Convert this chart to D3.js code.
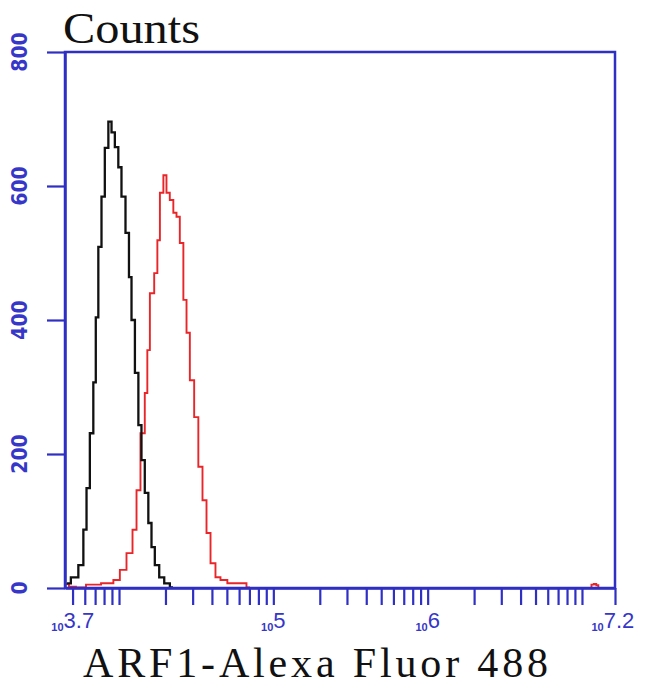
<!DOCTYPE html>
<html><head><meta charset="utf-8">
<script src="https://cdn.jsdelivr.net/npm/d3@7/dist/d3.min.js"></script>
<style>
html,body{margin:0;padding:0;background:#fff;}
svg{display:block;}
</style></head>
<body>
<svg id="chart" width="650" height="689"></svg>
<script>
// ---- data ----
const yTicks = [0, 200, 400, 600, 800];
const xLabelExps = ["3.7", "5", "6", "7.2"];
// black (control) histogram: log10 fluorescence, counts
const blackLog = [3.661,3.715,3.758,3.780,3.799,3.823,3.844,3.855,3.877,3.896,3.920,3.942,3.961,3.985,4.006,4.026,4.058,4.071,4.091,4.115,4.136,4.155,4.179,4.201,4.220,4.244,4.277,4.309,4.350];
const blackCounts = [7,16,34,87,149,231,307,404,509,584,657,696,680,658,628,584,530,464,400,321,243,191,142,97,61,34,16,7,1];
// red (ARF1) histogram
const redLog = [3.656,3.695,3.747,3.825,3.942,3.985,4.026,4.071,4.104,4.123,4.155,4.179,4.188,4.212,4.244,4.253,4.277,4.298,4.317,4.341,4.363,4.382,4.406,4.428,4.447,4.471,4.503,4.525,4.557,4.577,4.609,4.641,4.674,4.730,4.803,4.849];
const redCounts = [6,2,1,5,7,12,27,52,87,146,231,291,355,440,470,519,590,616,590,579,560,554,515,430,381,310,255,181,131,82,37,16,12,7,7,1];
// small red events near the top of the range
const redTailLog = [7.055,7.068,7.085,7.100,7.112];
const redTailCounts = [0,5,6,4,0];

const axisBlue = "#2f2fc4";
const textBlue = "#3636c8";

const svg = d3.select("#chart");
const x = d3.scaleLog().domain([Math.pow(10,3.65), Math.pow(10,7.214)]).range([65, 615]);
const y = d3.scaleLinear().domain([0, 800]).range([588, 52]);

// minor/major log ticks
const xTickVals = [];
for (let n = 3; n <= 7; n++) for (let k = 1; k <= 9; k++) {
  const v = k * Math.pow(10, n);
  if (v >= x.domain()[0] && v <= x.domain()[1]) xTickVals.push(v);
}
xTickVals.push(x.domain()[1]);

// curves
const line = d3.line().x(d => x(Math.pow(10, d[0]))).y(d => y(d[1])).curve(d3.curveStep);
svg.append("path").datum(redLog.map((v,i)=>[v, redCounts[i]]))
  .attr("d", line).attr("fill","none").attr("stroke","#e8262a").attr("stroke-width",1.9);
svg.append("path").datum(redTailLog.map((v,i)=>[v, redTailCounts[i]]))
  .attr("d", line).attr("fill","none").attr("stroke","#e8262a").attr("stroke-width",1.9);
svg.append("path").datum(blackLog.map((v,i)=>[v, blackCounts[i]]))
  .attr("d", line).attr("fill","none").attr("stroke","#111").attr("stroke-width",2.3);

// frame
svg.append("rect").attr("x",65).attr("y",52).attr("width",550).attr("height",536)
  .attr("fill","none").attr("stroke",axisBlue).attr("stroke-width",2.5);

// x axis
const gx = svg.append("g").attr("transform","translate(0,588)")
  .call(d3.axisBottom(x).tickValues(xTickVals).tickFormat("").tickSizeInner(17).tickSizeOuter(0));
gx.select(".domain").attr("stroke",axisBlue).attr("stroke-width",2.5);
gx.selectAll(".tick line").attr("stroke",axisBlue).attr("stroke-width",2.2);

// y axis
const gy = svg.append("g").attr("transform","translate(65,0)")
  .call(d3.axisLeft(y).tickValues(yTicks).tickFormat("").tickSizeInner(18).tickSizeOuter(0));
gy.select(".domain").attr("stroke",axisBlue).attr("stroke-width",2.5);
gy.selectAll(".tick line").attr("stroke",axisBlue).attr("stroke-width",2.2);

// y tick labels (rotated)
svg.selectAll(".ylab").data(yTicks).enter().append("text")
  .attr("transform", d => `translate(27,${y(d)}) rotate(-90)`)
  .attr("text-anchor","middle")
  .attr("font-family","'Liberation Sans Narrow','DejaVu Sans Condensed','Liberation Sans',sans-serif")
  .attr("font-size",21).attr("font-weight","bold").attr("fill",textBlue)
  .text(d => d);

// x tick labels: 10^exp
const xl = svg.selectAll(".xlab").data(xLabelExps).enter().append("text")
  .attr("x", d => x(Math.pow(10, +d)))
  .attr("y", 628)
  .attr("text-anchor","middle")
  .attr("font-family","'Liberation Sans','DejaVu Sans',sans-serif")
  .attr("fill",textBlue);
xl.append("tspan").attr("font-size",11).attr("font-weight","bold").attr("dy",3).text("10");
xl.append("tspan").attr("font-size",22).attr("dy",-3).text(d => d);

// titles
svg.append("text").attr("x",63).attr("y",43)
  .attr("font-family","'Liberation Serif','DejaVu Serif',serif")
  .attr("font-size",44).attr("fill","#111")
  .attr("textLength",137).attr("lengthAdjust","spacingAndGlyphs")
  .text("Counts");
svg.append("text").attr("x",83).attr("y",677)
  .attr("font-family","'Liberation Serif','DejaVu Serif',serif")
  .attr("font-size",42).attr("fill","#111")
  .attr("textLength",465).attr("lengthAdjust","spacing")
  .text("ARF1-Alexa Fluor 488");
</script>
</body></html>
